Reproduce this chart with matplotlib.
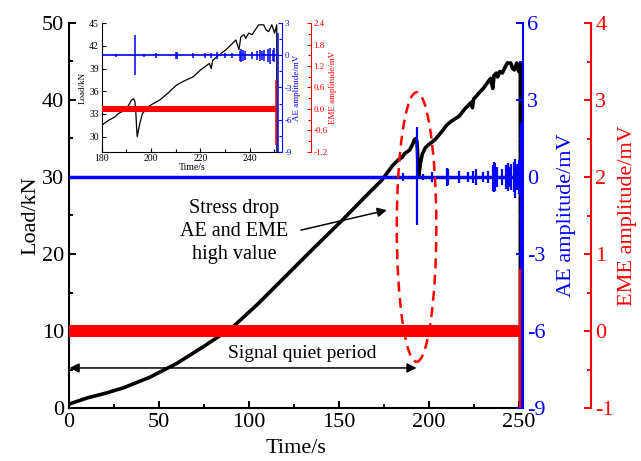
import matplotlib
matplotlib.use("Agg")
import matplotlib.pyplot as plt
from matplotlib.patches import Ellipse
from matplotlib.ticker import MultipleLocator, FormatStrFormatter

plt.rcParams['font.family'] = ['Liberation Serif', 'DejaVu Serif']
plt.rcParams['axes.unicode_minus'] = False

# ---------------- data ----------------
load_t = [0, 5, 10, 20, 30, 45, 60, 75, 91, 105, 120, 135, 152, 165, 174,
          180, 183, 185.4, 186.2, 187, 189.4, 191, 192.1, 193.0, 193.5, 193.8,
          194.1, 194.4, 195.0, 195.5, 196.5, 198.2, 200, 203.6, 207, 210.3,
          213, 217, 220, 223.7, 224.4, 225.0, 228, 230.4, 232, 234.4, 235.7,
          236.4, 237.7, 238.4, 239.6, 241, 242, 243.7, 245.7, 246.7, 247.7,
          249, 250.1, 251.0, 251.05]
load_v = [0.5, 0.9, 1.3, 1.9, 2.6, 4.0, 5.8, 8.0, 10.5, 13.5, 17.0, 20.5, 24.4,
          27.5, 29.6, 31.5, 32.2, 32.6, 32.9, 33.1, 33.5, 34.2, 34.85, 35.0,
          34.6, 33.5, 31.5, 30.0, 31.0, 31.8, 33.0, 33.8, 34.2, 34.85, 35.8,
          36.8, 37.3, 37.9, 38.8, 39.7, 39.0, 40.1, 40.9, 41.5, 42.0, 42.8,
          41.5, 43.2, 43.5, 43.0, 43.7, 43.5, 44.0, 44.8, 44.8, 44.1, 43.9,
          44.8, 43.7, 44.8, 0.0]

ae_base_t = [0, 251.3]
ae_burst_t = [186, 193.5, 197, 202, 210, 210.6, 217, 222, 224.5, 226.6, 230,
              233, 236, 236.5, 237.2, 238, 241, 243, 244, 245, 246, 247.5,
              248.3, 249.3, 250.0, 251.3]
ae_burst_hi = [0.15, 1.95, 0.12, 0.2, 0.35, 0.3, 0.25, 0.2, 0.25, 0.3, 0.2,
               0.25, 0.45, 0.6, 0.55, 0.4, 0.3, 0.45, 0.55, 0.4, 0.5, 0.6,
               0.7, 0.5, 0.65, 2.1]
ae_burst_lo = [-0.15, -1.87, -0.12, -0.2, -0.35, -0.3, -0.25, -0.2, -0.25,
               -0.3, -0.2, -0.25, -0.55, -0.6, -0.55, -0.4, -0.3, -0.45, -0.55,
               -0.4, -0.5, -0.6, -0.8, -0.5, -0.65, -9.0]

eme_t = [0, 250.8]
eme_band = [0.08, 0.08]
eme_spike_t = [250.8]
eme_spike_hi = [0.8]
eme_spike_lo = [-1.0]

BLUE = '#0000FF'
RED = '#FF0000'

# ---------------- figure ----------------
fig = plt.figure(figsize=(6.41, 4.61), dpi=100)
ax = fig.add_axes([69/641, 1-408/461, (523-69)/641, (408-23)/461])


def draw_all(a, a_ae, a_em, lw_load, lw_base, lw_burst):
    a.plot(load_t, load_v, color='k', lw=lw_load, solid_joinstyle='round', zorder=3)
    a_ae.plot(ae_base_t, [0, 0], color=BLUE, lw=lw_base)
    a_ae.vlines(ae_burst_t, ae_burst_lo, ae_burst_hi, color=BLUE, lw=lw_burst)
    a_em.fill_between(eme_t, [-b for b in eme_band], eme_band, color=RED, lw=0)
    a_em.vlines(eme_spike_t, eme_spike_lo, eme_spike_hi, color=RED, lw=lw_burst)


ax_ae = ax.twinx()
ax_em = ax.twinx()
draw_all(ax, ax_ae, ax_em, 2.6, 2.5, 1.6)

# main axes style
ax.set_xlim(0, 252.5)
ax.set_ylim(0, 50)
ax.xaxis.set_major_locator(MultipleLocator(50))
ax.xaxis.set_minor_locator(MultipleLocator(25))
ax.yaxis.set_major_locator(MultipleLocator(10))
ax.yaxis.set_minor_locator(MultipleLocator(5))
ax.spines['top'].set_visible(False)
ax.spines['right'].set_visible(False)
for s in ['left', 'bottom']:
    ax.spines[s].set_linewidth(1.5)
ax.tick_params(which='both', direction='in', width=1.4, labelsize=16)
ax.tick_params(which='major', length=5)
ax.tick_params(which='minor', length=3)
ax.set_xlabel('Time/s', fontsize=16, labelpad=5)
ax.set_ylabel('Load/kN', fontsize=16, labelpad=1)

for a in (ax_ae, ax_em):
    for s in ['left', 'bottom', 'top']:
        a.spines[s].set_visible(False)

ax_ae.set_ylim(-9, 6)
ax_ae.yaxis.set_major_locator(MultipleLocator(3))
ax_ae.yaxis.set_minor_locator(MultipleLocator(1.5))
ax_ae.spines['right'].set_color(BLUE)
ax_ae.spines['right'].set_linewidth(1.5)
ax_ae.tick_params(which='both', direction='in', width=1.4, colors=BLUE, labelsize=16, pad=3)
ax_ae.tick_params(which='major', length=5)
ax_ae.tick_params(which='minor', length=3)
ax_ae.set_ylabel('AE amplitude/mV', fontsize=16, color=BLUE, labelpad=8)

ax_em.spines['right'].set_position(('outward', 49))
ax_em.set_ylim(-1, 4)
ax_em.yaxis.set_major_locator(MultipleLocator(1))
ax_em.yaxis.set_minor_locator(MultipleLocator(0.5))
ax_em.spines['right'].set_color(RED)
ax_em.spines['right'].set_linewidth(1.5)
ax_em.tick_params(which='both', direction='in', width=1.4, colors=RED, labelsize=16, pad=3)
ax_em.tick_params(which='major', length=5)
ax_em.tick_params(which='minor', length=3)
ax_em.set_ylabel('EME amplitude/mV', fontsize=16, color=RED, labelpad=3)

# annotations (drawn on top, in load/time coordinates)
tr = ax.transData
ax_em.add_patch(Ellipse((193.3, 23.5), 22, 35, transform=tr, fill=False,
                        edgecolor=RED, lw=1.8, ls=(0, (4, 2.5)), zorder=5))
ax_em.text(92.0, 22.9, 'Stress drop\nAE and EME\nhigh value', transform=tr,
           ha='center', va='center', fontsize=14.5, linespacing=1.3, zorder=6)
ax_em.annotate('', xy=(176.8, 25.7), xytext=(129.0, 23.1), xycoords=tr, textcoords=tr,
               arrowprops=dict(arrowstyle='-|>', color='k', lw=1.1, mutation_scale=14,
                               shrinkA=0, shrinkB=0), zorder=6)
ax_em.text(130, 7.1, 'Signal quiet period', transform=tr, ha='center', va='center',
           fontsize=14, zorder=6)
ax_em.annotate('', xy=(193.3, 5.2), xytext=(0.3, 5.2), xycoords=tr, textcoords=tr,
               arrowprops=dict(arrowstyle='<|-|>', color='k', lw=1.1, mutation_scale=14,
                               shrinkA=0, shrinkB=0), zorder=6)

# ---------------- inset ----------------
ins = fig.add_axes([101.7/641, 1-151.7/461, 180/641, (151.7-23.3)/461])
ins.set_facecolor('white')
ins_ae = ins.twinx()
ins_em = ins.twinx()
draw_all(ins, ins_ae, ins_em, 0.9, 1.2, 1.1)

ins.set_xlim(180, 253)
ins.set_ylim(28, 45)
ins.xaxis.set_major_locator(MultipleLocator(20))
ins.xaxis.set_minor_locator(MultipleLocator(10))
ins.yaxis.set_major_locator(MultipleLocator(3))
ins.spines['top'].set_visible(False)
ins.spines['right'].set_visible(False)
ins.tick_params(which='both', direction='in', width=0.8, labelsize=7, pad=2)
ins.tick_params(which='major', length=3)
ins.tick_params(which='minor', length=2)
ins.set_xlabel('Time/s', fontsize=7, labelpad=0)
ins.set_ylabel('Load/kN', fontsize=6.5, labelpad=2)

for a in (ins_ae, ins_em):
    for s in ['left', 'bottom', 'top']:
        a.spines[s].set_visible(False)

ins_ae.set_ylim(-9, 3)
ins_ae.yaxis.set_major_locator(MultipleLocator(3))
ins_ae.yaxis.set_minor_locator(MultipleLocator(1.5))
ins_ae.spines['right'].set_color(BLUE)
ins_ae.tick_params(which='both', direction='in', width=0.8, colors=BLUE, labelsize=6.5, pad=2)
ins_ae.tick_params(which='major', length=3)
ins_ae.tick_params(which='minor', length=2)
ins_ae.set_ylabel('AE amplitude/mV', fontsize=6.5, color=BLUE, labelpad=1)

ins_em.spines['right'].set_position(('outward', 21))
ins_em.set_ylim(-1.2, 2.4)
ins_em.yaxis.set_major_locator(MultipleLocator(0.6))
ins_em.yaxis.set_minor_locator(MultipleLocator(0.3))
ins_em.yaxis.set_major_formatter(FormatStrFormatter('%.1f'))
ins_em.spines['right'].set_color(RED)
ins_em.tick_params(which='both', direction='in', width=0.8, colors=RED, labelsize=6.5, pad=2)
ins_em.tick_params(which='major', length=3)
ins_em.tick_params(which='minor', length=2)
ins_em.set_ylabel('EME amplitude/mV', fontsize=6.5, color=RED, labelpad=1)

fig.savefig('out.png', dpi=100)
